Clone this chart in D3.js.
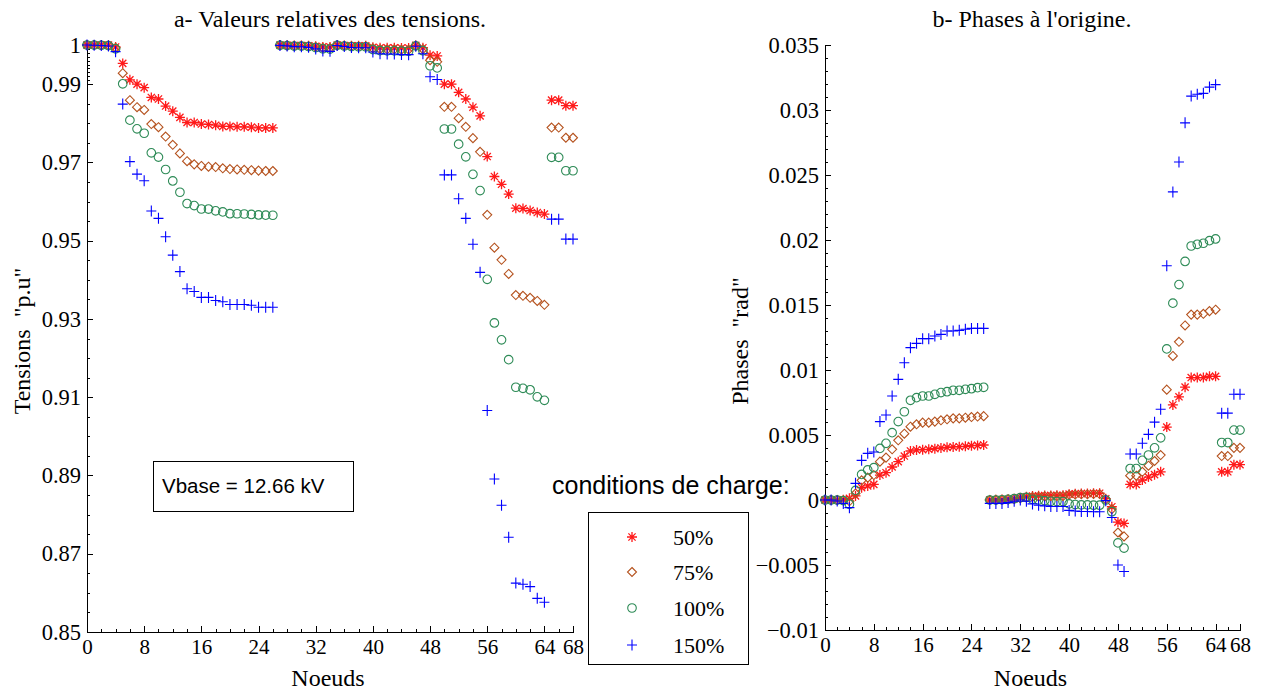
<!DOCTYPE html>
<html>
<head>
<meta charset="utf-8">
<script src="https://cdn.jsdelivr.net/npm/d3@7"></script>
<style>
  body { margin: 0; background: #fff; }
  .axis path, .axis line { stroke: #000; stroke-width: 1; shape-rendering: crispEdges; }
</style>
</head>
<body>
<svg id="chart" width="1264" height="692"></svg>
<script>
var SERIF = "'Liberation Serif', 'Times New Roman', serif";
var SANS = "'Liberation Sans', Arial, sans-serif";

// node numbers 0..68
var nodes = d3.range(0, 69);

// a- relative voltages (p.u)
var tension50 = [1.0, 1.0, 0.99999, 0.99996, 0.9995,
  0.9953, 0.9911, 0.9900, 0.9891, 0.9866, 0.9862, 0.9844, 0.9831, 0.9815, 0.9802, 0.9802, 0.9798, 0.9797, 0.9795, 0.9792, 0.9792, 0.9791, 0.9791, 0.9790, 0.9788, 0.9788, 0.9788,
  0.99997, 0.99993, 0.99987, 0.99986, 0.99981, 0.99969, 0.99952, 0.99949, 0.99996, 0.99988, 0.9998, 0.99978, 0.99978, 0.99944, 0.9993, 0.99928, 0.99928, 0.99923, 0.99923, 0.9999, 0.9993,
  0.9974, 0.9972, 0.9900, 0.9900, 0.9879, 0.9862, 0.9841, 0.9819, 0.9715, 0.9664, 0.9644, 0.9619, 0.9583, 0.9582, 0.9577, 0.9572, 0.9568, 0.9859, 0.9859, 0.9845, 0.9845];
var tension75 = [1.0, 0.99998, 0.99995, 0.99988, 0.9993,
  0.9928, 0.9859, 0.9841, 0.9834, 0.9798, 0.9790, 0.9766, 0.9745, 0.9723, 0.9703, 0.9695, 0.9691, 0.9689, 0.9688, 0.9685, 0.9683, 0.9682, 0.9681, 0.9680, 0.9679, 0.9678, 0.9678,
  0.99995, 0.99989, 0.9998, 0.99979, 0.99971, 0.99952, 0.99927, 0.99922, 0.99994, 0.99982, 0.9997, 0.99966, 0.99966, 0.99914, 0.99893, 0.9989, 0.99889, 0.99882, 0.99882, 0.99984, 0.99892,
  0.9961, 0.9957, 0.9842, 0.9842, 0.9813, 0.9791, 0.9762, 0.9727, 0.9566, 0.9482, 0.9451, 0.9415, 0.9361, 0.9359, 0.9354, 0.9346, 0.9336, 0.9789, 0.9789, 0.9763, 0.9763];
var tension100 = [1.0, 0.99997, 0.99993, 0.99984, 0.99902,
  0.99009, 0.98079, 0.97858, 0.97745, 0.97245, 0.97135, 0.96819, 0.96526, 0.96237, 0.95949, 0.95896, 0.95809, 0.95808, 0.95763, 0.95735, 0.95689, 0.95688, 0.95682, 0.95670, 0.95657, 0.95652, 0.95650,
  0.99993, 0.99985, 0.99973, 0.99971, 0.99961, 0.99935, 0.99901, 0.99895, 0.99992, 0.99975, 0.99959, 0.99954, 0.99954, 0.99884, 0.99855, 0.99851, 0.99850, 0.99841, 0.99840, 0.99979, 0.99854,
  0.99469, 0.99415, 0.97854, 0.97853, 0.97466, 0.97142, 0.96695, 0.96279, 0.94011, 0.92897, 0.92465, 0.91959, 0.91254, 0.91226, 0.91189, 0.91010, 0.90919, 0.97129, 0.97129, 0.96786, 0.96786];
var tension150 = [1.0, 0.99995, 0.99989, 0.99975, 0.9983,
  0.9849, 0.9702, 0.9670, 0.9653, 0.9576, 0.9557, 0.9510, 0.9463, 0.9421, 0.9377, 0.9370, 0.9355, 0.9355, 0.9347, 0.9344, 0.9337, 0.9337, 0.9337, 0.9335, 0.9330, 0.9330, 0.9330,
  0.9999, 0.99977, 0.99958, 0.99955, 0.9994, 0.999, 0.99848, 0.99838, 0.99988, 0.99961, 0.99937, 0.99929, 0.99929, 0.99821, 0.99776, 0.9977, 0.99769, 0.99755, 0.99754, 0.99968, 0.99775,
  0.9919, 0.9912, 0.9668, 0.9668, 0.9607, 0.9557, 0.9491, 0.9419, 0.9066, 0.8891, 0.8824, 0.8742, 0.8625, 0.8622, 0.8616, 0.8586, 0.8576, 0.9555, 0.9555, 0.9504, 0.9504];

// b- phase angles (rad)
var phase50 = [0, 0, 0, 0.00002, 0.00013,
  0.00031, 0.00095, 0.00108, 0.0012, 0.00192, 0.0021, 0.00254, 0.00295, 0.00338, 0.00377, 0.00385, 0.00387, 0.0039, 0.00395, 0.004, 0.00405, 0.00408, 0.0041, 0.00413, 0.00418, 0.0042, 0.00423,
  0, 0.00001, 0.00003, 0.00005, 0.0001, 0.00018, 0.00025, 0.0003, 0.00032, 0.00034, 0.00035, 0.00036, 0.00036, 0.00045, 0.00048, 0.0005, 0.0005, 0.00052, 0.00052, 0.0001, -0.00052,
  -0.0017, -0.0018, 0.0012, 0.0012, 0.00154, 0.00176, 0.00195, 0.00217, 0.00561, 0.00731, 0.00794, 0.00868, 0.00942, 0.00942, 0.00942, 0.00951, 0.00951, 0.00217, 0.00217, 0.00272, 0.00272];
var phase75 = [0, 0, 0, -0.00002, -0.0001,
  0.0005, 0.00151, 0.00172, 0.00192, 0.00295, 0.00326, 0.0039, 0.00459, 0.0051, 0.00564, 0.00582, 0.00595, 0.00595, 0.00603, 0.00613, 0.00621, 0.00628, 0.00628, 0.00633, 0.00638, 0.00642, 0.00645,
  0, 0.00001, 0.00002, 0.00004, 0.00008, 0.00014, 0.0002, 0.00024, 0.00026, 0.00028, 0.00029, 0.0003, 0.0003, 0.0004, 0.00042, 0.00044, 0.00044, 0.00046, 0.00046, 0.00005, -0.0007,
  -0.0025, -0.0028, 0.00187, 0.00187, 0.00217, 0.00264, 0.003, 0.00346, 0.00849, 0.01108, 0.01217, 0.01343, 0.01426, 0.01426, 0.01432, 0.01453, 0.01464, 0.00338, 0.00338, 0.00401, 0.00401];
var phase100 = [0, 0, 0, -0.00005, -0.00033,
  0.00074, 0.00197, 0.00231, 0.00249, 0.00397, 0.00436, 0.00518, 0.00603, 0.00679, 0.00767, 0.00787, 0.008, 0.008, 0.00813, 0.00826, 0.00833, 0.00844, 0.00844, 0.00851, 0.00856, 0.00864, 0.00867,
  0, 0, 0.00002, 0.00005, 0.0001, 0.00018, 0.0002, 0.00005, 0, -0.00005, -0.0001, -0.00012, -0.00012, -0.0003, -0.00035, -0.00038, -0.00038, -0.0004, -0.0004, 0, -0.0009,
  -0.0033, -0.0037, 0.00242, 0.00242, 0.00305, 0.00346, 0.00401, 0.00478, 0.01162, 0.01514, 0.01657, 0.01835, 0.01954, 0.01967, 0.01975, 0.01995, 0.02008, 0.00442, 0.00442, 0.00538, 0.00538];
var phase150 = [0, 0, -0.00008, -0.00026, -0.00059,
  0.00128, 0.00305, 0.00359, 0.00369, 0.00603, 0.00654, 0.008, 0.00928, 0.01056, 0.01172, 0.01205, 0.01241, 0.01241, 0.01262, 0.01274, 0.013, 0.013, 0.01305, 0.01313, 0.0132, 0.0132, 0.0132,
  -0.00026, -0.00026, -0.00026, -0.0002, -0.0001, 0, -0.0001, -0.0003, -0.0004, -0.00045, -0.0005, -0.0005, -0.0005, -0.0008, -0.00085, -0.00088, -0.00088, -0.0009, -0.0009, -0.00005, -0.00135,
  -0.005, -0.0055, 0.00354, 0.00354, 0.00437, 0.00505, 0.00599, 0.00698, 0.01802, 0.0237, 0.026, 0.02901, 0.03107, 0.03121, 0.03128, 0.03176, 0.03195, 0.00668, 0.00668, 0.00813, 0.00813];

var legendLabels = ["50%", "75%", "100%", "150%"];
var xTicks = [0, 8, 16, 24, 32, 40, 48, 56, 64, 68];
var leftTicks = [1, 0.99, 0.97, 0.95, 0.93, 0.91, 0.89, 0.87, 0.85];
var rightTicks = [0.035, 0.03, 0.025, 0.02, 0.015, 0.01, 0.005, 0, -0.005, -0.01];

var colors = ["#ff1a1a", "#b5521e", "#2e8b57", "#0000ff"];
var shapes = ["star", "diamond", "circle", "plus"];
var tensions = [tension50, tension75, tension100, tension150];
var phases = [phase50, phase75, phase100, phase150];

var svg = d3.select("#chart");

function drawMarker(g, shape, color) {
    if (shape == "circle") {
        g.append("circle").attr("r", 4.3).attr("fill", "none").attr("stroke", color).attr("stroke-width", 1.1);
    } else {
        var d;
        if (shape == "star") d = "M-5,0H5M0,-5V5M-3.6,-3.6L3.6,3.6M-3.6,3.6L3.6,-3.6";
        if (shape == "diamond") d = "M0,-4.5L4.5,0L0,4.5L-4.5,0Z";
        if (shape == "plus") d = "M-5,0H5M0,-5.5V5.5";
        g.append("path").attr("d", d).attr("fill", "none").attr("stroke", color)
            .attr("stroke-width", shape == "star" ? 1.3 : 1.1);
    }
}

function panel(cfg) {
    var x = d3.scaleLinear().domain([0, 68]).range(cfg.xr);
    var y = d3.scaleLinear().domain(cfg.yd).range(cfg.yr);

    // minor ticks
    svg.append("g").attr("class", "axis")
        .attr("transform", "translate(0," + cfg.yr[0] + ")")
        .call(d3.axisBottom(x).tickValues(d3.range(0, 69, 2)).tickSize(-3).tickSizeOuter(0).tickFormat(""));
    svg.append("g").attr("class", "axis")
        .attr("transform", "translate(" + cfg.xr[0] + ",0)")
        .call(d3.axisLeft(y).tickValues(cfg.minor).tickSize(-3).tickSizeOuter(0).tickFormat(""));

    // major ticks
    var xa = svg.append("g").attr("class", "axis")
        .attr("transform", "translate(0," + cfg.yr[0] + ")")
        .call(d3.axisBottom(x).tickValues(xTicks).tickSize(-6).tickSizeOuter(0).tickPadding(7));
    xa.attr("font-family", SERIF).attr("font-size", 21);
    xa.selectAll("text").attr("dy", "0.71em").attr("fill", "#000");
    var ya = svg.append("g").attr("class", "axis")
        .attr("transform", "translate(" + cfg.xr[0] + ",0)")
        .call(d3.axisLeft(y).tickValues(cfg.ticks).tickSize(-6).tickSizeOuter(0).tickPadding(6).tickFormat(d3.format("")));
    ya.attr("font-family", SERIF).attr("font-size", 22.5);
    ya.selectAll("text").attr("fill", "#000");

    // points
    cfg.series.forEach(function(vals, i) {
        svg.append("g").selectAll("g").data(vals).enter().append("g")
            .attr("transform", function(d, k) { return "translate(" + x(nodes[k]) + "," + y(d) + ")"; })
            .each(function() { drawMarker(d3.select(this), shapes[i], colors[i]); });
    });

    svg.append("text").attr("x", cfg.tx).attr("y", 27).attr("text-anchor", "middle")
        .attr("font-family", SERIF).attr("font-size", 24).text(cfg.title);
    svg.append("text").attr("x", (cfg.xr[0] + cfg.xr[1]) / 2 - 2).attr("y", 686).attr("text-anchor", "middle")
        .attr("font-family", SERIF).attr("font-size", 24).text("Noeuds");
    svg.append("text").attr("transform", "translate(" + cfg.lx + ",341) rotate(-90)")
        .attr("text-anchor", "middle").attr("font-family", SERIF).attr("font-size", 24)
        .style("white-space", "pre").text(cfg.ylabel);
}

var leftMinor = d3.range(0.85, 0.99, 0.005).concat(d3.range(0.99, 1.0001, 0.001));
var rightMinor = d3.range(-0.01, 0.0351, 0.001);

panel({ xr: [87, 573], yd: [0.85, 1], yr: [632, 45], ticks: leftTicks, minor: leftMinor,
    series: tensions, title: "a- Valeurs relatives des tensions.", tx: 330, lx: 30, ylabel: 'Tensions  "p.u"' });
panel({ xr: [825, 1240], yd: [-0.01, 0.035], yr: [630, 45], ticks: rightTicks, minor: rightMinor,
    series: phases, title: "b- Phases \u00e0 l'origine.", tx: 1032, lx: 748, ylabel: 'Phases  "rad"' });

// Vbase box
svg.append("rect").attr("x", 153.5).attr("y", 461.5).attr("width", 200).attr("height", 50)
    .attr("fill", "none").attr("stroke", "#000");
svg.append("text").attr("x", 162).attr("y", 493).attr("font-family", SANS).attr("font-size", 20.5).text("Vbase = 12.66 kV");

// legend
svg.append("text").attr("x", 552).attr("y", 494).attr("font-family", SANS).attr("font-size", 25).text("conditions de charge:");
svg.append("rect").attr("x", 588.5).attr("y", 512.5).attr("width", 160).attr("height", 152)
    .attr("fill", "#fff").attr("stroke", "#000");
var rowsY = [537, 572, 608, 645];
legendLabels.forEach(function(lab, i) {
    var g = svg.append("g").attr("transform", "translate(632," + rowsY[i] + ")");
    drawMarker(g, shapes[i], colors[i]);
    svg.append("text").attr("x", 673).attr("y", rowsY[i] + 8).attr("font-family", SERIF).attr("font-size", 22).text(lab);
});
</script>
</body>
</html>
